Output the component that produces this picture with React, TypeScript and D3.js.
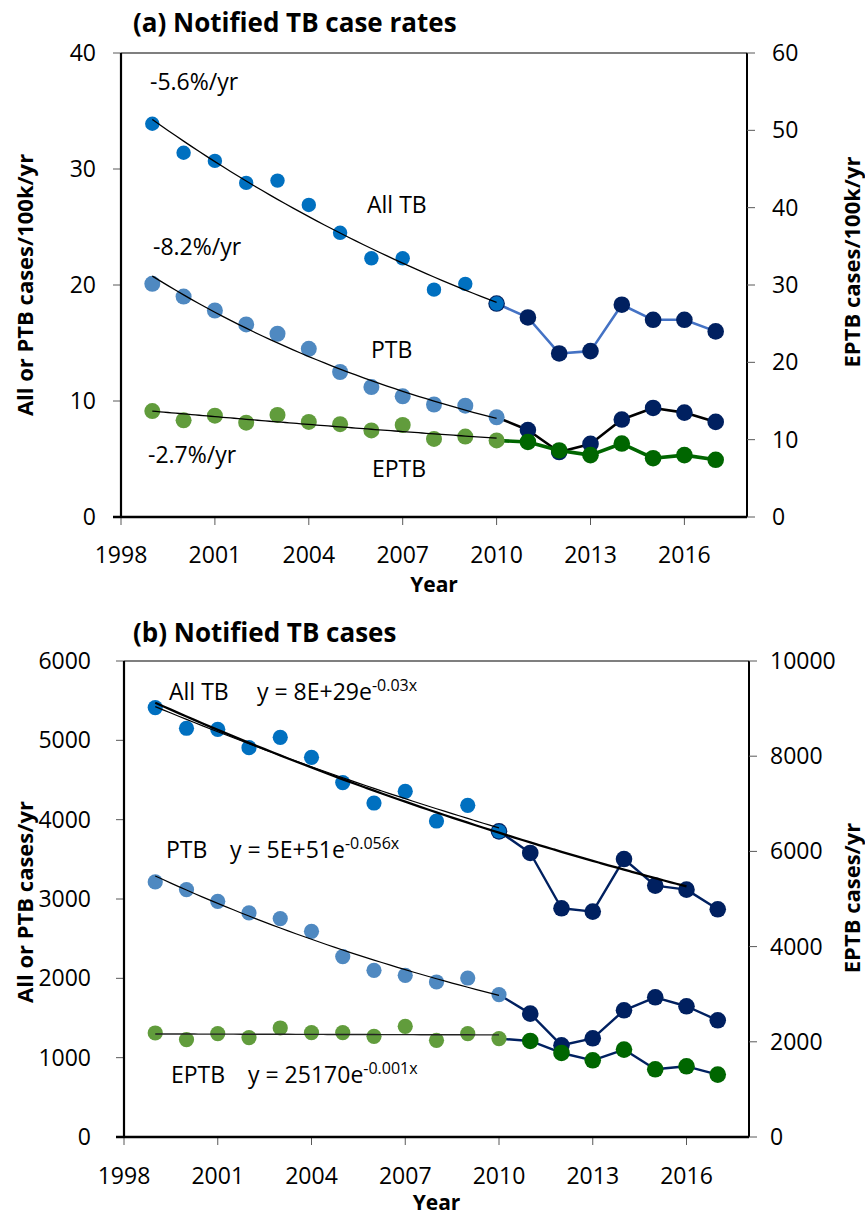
import React from "react";
import * as d3 from "d3";

// Notification years
const YEARS = [1999, 2000, 2001, 2002, 2003, 2004, 2005, 2006, 2007, 2008, 2009, 2010, 2011, 2012, 2013, 2014, 2015, 2016, 2017];

// (a) notified case rates per 100k per year
const RATE_ALL_TB = [33.9, 31.4, 30.7, 28.8, 29.0, 26.9, 24.5, 22.3, 22.3, 19.6, 20.1, 18.4, 17.2, 14.1, 14.3, 18.3, 17.0, 17.0, 16.0];
const RATE_PTB = [20.1, 19.0, 17.8, 16.6, 15.8, 14.5, 12.5, 11.2, 10.4, 9.7, 9.6, 8.6, 7.5, 5.6, 6.3, 8.4, 9.4, 9.0, 8.2];
const RATE_EPTB = [13.7, 12.5, 13.1, 12.2, 13.2, 12.3, 12.0, 11.2, 11.9, 10.1, 10.4, 9.9, 9.7, 8.6, 8.0, 9.5, 7.6, 8.0, 7.4];

// (b) notified case counts per year
const CASES_ALL_TB = [5413, 5152, 5139, 4908, 5038, 4786, 4467, 4210, 4358, 3983, 4181, 3853, 3580, 2883, 2841, 3504, 3169, 3118, 2870];
const CASES_PTB = [3215, 3119, 2971, 2824, 2753, 2593, 2274, 2101, 2038, 1954, 2004, 1795, 1555, 1156, 1244, 1597, 1761, 1648, 1471];
const CASES_EPTB = [2185, 2046, 2172, 2088, 2290, 2193, 2193, 2116, 2326, 2032, 2172, 2067, 2017, 1765, 1611, 1836, 1422, 1485, 1311];

// Trend windows
const TREND_LAST_YEAR = 2010;
const LONG_TREND_LAST_YEAR = 2016;
const LONG_TREND_SKIP = [2012, 2013];

// Tick labels
const X_TICKS = [1998, 2001, 2004, 2007, 2010, 2013, 2016];
const RATE_LEFT_TICKS = [0, 10, 20, 30, 40];
const RATE_RIGHT_TICKS = [0, 10, 20, 30, 40, 50, 60];
const CASE_LEFT_TICKS = [0, 1000, 2000, 3000, 4000, 5000, 6000];
const CASE_RIGHT_TICKS = [0, 2000, 4000, 6000, 8000, 10000];

// Text labels
const RATE_LABELS = ["-5.6%/yr", "-8.2%/yr", "-2.7%/yr"];
const CASE_EQS = [
  { name: "All TB", eq: "y = 8E+29e", exp: "-0.03x" },
  { name: "PTB", eq: "y = 5E+51e", exp: "-0.056x" },
  { name: "EPTB", eq: "y = 25170e", exp: "-0.001x" },
];

const FONT = "'Open Sans', 'Liberation Sans', sans-serif";
const C_ALL = "#0070C0";
const C_PTB = "#4F89C1";
const C_EPTB = "#619C3C";
const C_NAVY = "#002060";
const C_DKGREEN = "#006600";
const C_LINE_BLUE = "#4472C4";
const C_TICK = "#595959";

type Pt = { x: number; y: number };

// exponential least-squares fit on ln(y)
function expFit(years: number[], vals: number[]) {
  const xs = years.map((y) => y - years[0]);
  const ls = vals.map((v) => Math.log(v));
  const mx = d3.mean(xs)!;
  const ml = d3.mean(ls)!;
  const sxy = d3.sum(xs, (x, i) => (x - mx) * (ls[i] - ml));
  const sxx = d3.sum(xs, (x) => (x - mx) * (x - mx));
  const b = sxy / sxx;
  const a = ml - b * mx;
  const y0 = years[0];
  return (yr: number) => Math.exp(a + b * (yr - y0));
}

function trendPoints(vals: number[], last: number, skip: number[] = []): Pt[] {
  const yrs: number[] = [];
  const vs: number[] = [];
  YEARS.forEach((y, i) => {
    if (y <= last && !skip.includes(y)) {
      yrs.push(y);
      vs.push(vals[i]);
    }
  });
  const f = expFit(yrs, vs);
  const pts: Pt[] = [];
  for (let t = YEARS[0]; t <= last + 1e-9; t += 0.25) pts.push({ x: t, y: f(t) });
  return pts;
}

const early = (vals: number[]) =>
  YEARS.map((y, i) => ({ x: y, y: vals[i] })).filter((d) => d.x <= TREND_LAST_YEAR);
const late = (vals: number[]) =>
  YEARS.map((y, i) => ({ x: y, y: vals[i] })).filter((d) => d.x >= TREND_LAST_YEAR);

type PanelProps = {
  top: number;
  bottom: number;
  left: number;
  right: number;
  leftMax: number;
  rightMax: number;
  leftTicks: number[];
  rightTicks: number[];
  leftLabelX: number;
  rightLabelX: number;
  leftTitle: string;
  rightTitle: string;
  leftTitleY: number;
  rightTitleY: number;
  title: string;
  titleY: number;
  xLabelY: number;
  yearY: number;
  children: (sx: d3.ScaleLinear<number, number>, syl: d3.ScaleLinear<number, number>, syr: d3.ScaleLinear<number, number>) => React.ReactNode;
};

function Panel(p: PanelProps) {
  const sx = d3.scaleLinear().domain([1998, 2018]).range([p.left, p.right]);
  const syl = d3.scaleLinear().domain([0, p.leftMax]).range([p.bottom, p.top]);
  const syr = d3.scaleLinear().domain([0, p.rightMax]).range([p.bottom, p.top]);
  return (
    <g>
      <text x={133} y={p.titleY} fontFamily={FONT} fontWeight={700} fontSize={26} fill="#000">
        {p.title}
      </text>
      {/* frame */}
      <line x1={p.left} x2={p.right} y1={p.top} y2={p.top} stroke="#000" strokeWidth={1.2} />
      <line x1={p.right} x2={p.right} y1={p.top} y2={p.bottom} stroke="#000" strokeWidth={2} />
      {/* ticks */}
      {p.leftTicks.map((t) => (
        <g key={"l" + t}>
          <line x1={p.left - 8} x2={p.left} y1={syl(t)} y2={syl(t)} stroke={C_TICK} strokeWidth={1} />
          <text x={p.leftLabelX} y={syl(t) + 8} textAnchor="end" fontFamily={FONT} fontSize={23} fill="#000">
            {t}
          </text>
        </g>
      ))}
      {p.rightTicks.map((t) => (
        <g key={"r" + t}>
          <line x1={p.right} x2={p.right + 8} y1={syr(t)} y2={syr(t)} stroke={C_TICK} strokeWidth={1} />
          <text x={p.rightLabelX} y={syr(t) + 8} textAnchor="start" fontFamily={FONT} fontSize={23} fill="#000">
            {t}
          </text>
        </g>
      ))}
      {X_TICKS.map((t) => (
        <g key={"x" + t}>
          <line x1={sx(t)} x2={sx(t)} y1={p.bottom} y2={p.bottom + 8} stroke={C_TICK} strokeWidth={1} />
          <text x={sx(t)} y={p.xLabelY} textAnchor="middle" fontFamily={FONT} fontSize={23} fill="#000">
            {t}
          </text>
        </g>
      ))}
      <line x1={p.left} x2={p.left} y1={p.top} y2={p.bottom} stroke="#000" strokeWidth={2.2} />
      <line x1={p.left - 8} x2={p.right} y1={p.bottom} y2={p.bottom} stroke="#000" strokeWidth={2.6} />
      <text x={(p.left + p.right) / 2} y={p.yearY} textAnchor="middle" fontFamily={FONT} fontWeight={700} fontSize={21}>
        Year
      </text>
      <text
        transform={`translate(33,${p.leftTitleY}) rotate(-90)`}
        textAnchor="middle"
        fontFamily={FONT}
        fontWeight={700}
        fontSize={22}
      >
        {p.leftTitle}
      </text>
      <text
        transform={`translate(860,${p.rightTitleY}) rotate(-90)`}
        textAnchor="middle"
        fontFamily={FONT}
        fontWeight={700}
        fontSize={22}
      >
        {p.rightTitle}
      </text>
      {p.children(sx, syl, syr)}
    </g>
  );
}

function Series({
  sx,
  sy,
  vals,
  lateFill,
  lineColor,
  lineWidth,
  ringFirst,
}: {
  sx: d3.ScaleLinear<number, number>;
  sy: d3.ScaleLinear<number, number>;
  vals: number[];
  lateFill: string;
  lineColor: string;
  lineWidth: number;
  ringFirst?: boolean;
}) {
  const lg = d3
    .line<Pt>()
    .x((d) => sx(d.x))
    .y((d) => sy(d.y));
  const lp = late(vals);
  return (
    <g>
      <path d={lg(lp) || ""} fill="none" stroke={lineColor} strokeWidth={lineWidth} strokeLinejoin="round" />
      {lp.map((d, i) =>
        i === 0 && !ringFirst ? null : (
          <circle key={d.x} cx={sx(d.x)} cy={sy(d.y)} r={8.3} fill={i === 0 ? C_NAVY : lateFill} />
        )
      )}
    </g>
  );
}

function EarlyDots({
  sx,
  sy,
  vals,
  color,
  r,
}: {
  sx: d3.ScaleLinear<number, number>;
  sy: d3.ScaleLinear<number, number>;
  vals: number[];
  color: string;
  r: number;
}) {
  return (
    <g>
      {early(vals).map((d) => (
        <circle key={d.x} cx={sx(d.x)} cy={sy(d.y)} r={d.x === TREND_LAST_YEAR && color === C_ALL ? 7.2 : r} fill={color} />
      ))}
    </g>
  );
}

function Trend({
  sx,
  sy,
  pts,
  width,
  color = "#000",
}: {
  sx: d3.ScaleLinear<number, number>;
  sy: d3.ScaleLinear<number, number>;
  pts: Pt[];
  width: number;
  color?: string;
}) {
  const lg = d3
    .line<Pt>()
    .x((d) => sx(d.x))
    .y((d) => sy(d.y))
    .curve(d3.curveMonotoneX);
  return <path d={lg(pts) || ""} fill="none" stroke={color} strokeWidth={width} />;
}

export default function App() {
  return (
    <svg width={865} height={1216} style={{ display: "block", position: "absolute", left: 0, top: 0, background: "#fff" }}>
      <rect width={865} height={1216} fill="#fff" />
      <Panel
        top={53}
        bottom={517}
        left={121}
        right={747}
        leftMax={40}
        rightMax={60}
        leftTicks={RATE_LEFT_TICKS}
        rightTicks={RATE_RIGHT_TICKS}
        leftLabelX={96}
        rightLabelX={772}
        leftTitle="All or PTB cases/100k/yr"
        rightTitle="EPTB cases/100k/yr"
        leftTitleY={285}
        rightTitleY={262}
        title="(a) Notified TB case rates"
        titleY={32}
        xLabelY={563}
        yearY={592}
      >
        {(sx, syl, syr) => (
          <g>
            <Series sx={sx} sy={syl} vals={RATE_ALL_TB} lateFill={C_NAVY} lineColor={C_LINE_BLUE} lineWidth={2.6} ringFirst />
            <Series sx={sx} sy={syl} vals={RATE_PTB} lateFill={C_NAVY} lineColor="#000" lineWidth={2.6} />
            <Series sx={sx} sy={syr} vals={RATE_EPTB} lateFill={C_DKGREEN} lineColor={C_DKGREEN} lineWidth={3.6} />
            <EarlyDots sx={sx} sy={syl} vals={RATE_ALL_TB} color={C_ALL} r={7.2} />
            <EarlyDots sx={sx} sy={syl} vals={RATE_PTB} color={C_PTB} r={8} />
            <EarlyDots sx={sx} sy={syr} vals={RATE_EPTB} color={C_EPTB} r={8} />
            <Trend sx={sx} sy={syl} pts={trendPoints(RATE_ALL_TB, TREND_LAST_YEAR)} width={1.3} />
            <Trend sx={sx} sy={syl} pts={trendPoints(RATE_PTB, TREND_LAST_YEAR)} width={1.3} />
            <Trend sx={sx} sy={syr} pts={trendPoints(RATE_EPTB, TREND_LAST_YEAR)} width={1.3} />
            <g fontFamily={FONT} fontSize={23} fill="#000">
              <text x={150} y={90}>{RATE_LABELS[0]}</text>
              <text x={367} y={213}>All TB</text>
              <text x={153} y={255}>{RATE_LABELS[1]}</text>
              <text x={371} y={358}>PTB</text>
              <text x={148} y={463}>{RATE_LABELS[2]}</text>
              <text x={372} y={477}>EPTB</text>
            </g>
          </g>
        )}
      </Panel>
      <Panel
        top={661}
        bottom={1137}
        left={124}
        right={749}
        leftMax={6000}
        rightMax={10000}
        leftTicks={CASE_LEFT_TICKS}
        rightTicks={CASE_RIGHT_TICKS}
        leftLabelX={91}
        rightLabelX={770}
        leftTitle="All or PTB cases/yr"
        rightTitle="EPTB cases/yr"
        leftTitleY={902}
        rightTitleY={898}
        title="(b) Notified TB cases"
        titleY={642}
        xLabelY={1184}
        yearY={1210}
      >
        {(sx, syl, syr) => (
          <g>
            <Series sx={sx} sy={syl} vals={CASES_ALL_TB} lateFill={C_NAVY} lineColor={C_NAVY} lineWidth={2.4} ringFirst />
            <Series sx={sx} sy={syl} vals={CASES_PTB} lateFill={C_NAVY} lineColor={C_NAVY} lineWidth={2.4} />
            <Series sx={sx} sy={syr} vals={CASES_EPTB} lateFill={C_DKGREEN} lineColor={C_NAVY} lineWidth={2.4} />
            <EarlyDots sx={sx} sy={syl} vals={CASES_ALL_TB} color={C_ALL} r={7.6} />
            <EarlyDots sx={sx} sy={syl} vals={CASES_PTB} color={C_PTB} r={7.6} />
            <EarlyDots sx={sx} sy={syr} vals={CASES_EPTB} color={C_EPTB} r={7.6} />
            <Trend sx={sx} sy={syl} pts={trendPoints(CASES_ALL_TB, TREND_LAST_YEAR)} width={1.2} />
            <Trend sx={sx} sy={syl} pts={trendPoints(CASES_ALL_TB, LONG_TREND_LAST_YEAR, LONG_TREND_SKIP)} width={2.3} />
            <Trend sx={sx} sy={syl} pts={trendPoints(CASES_PTB, TREND_LAST_YEAR)} width={1.2} />
            <Trend sx={sx} sy={syr} pts={trendPoints(CASES_EPTB, TREND_LAST_YEAR)} width={1.4} color="#222" />
            <g fontFamily={FONT} fontSize={23} fill="#000">
              {CASE_EQS.map((e, i) => {
                const pos = [
                  { nx: 169, ex: 257, y: 700 },
                  { nx: 166, ex: 230, y: 858 },
                  { nx: 171, ex: 248, y: 1083 },
                ][i];
                return (
                  <g key={e.name}>
                    <text x={pos.nx} y={pos.y}>{e.name}</text>
                    <text x={pos.ex} y={pos.y}>
                      {e.eq}
                      <tspan dy={-9} fontSize={16}>{e.exp}</tspan>
                    </text>
                  </g>
                );
              })}
            </g>
          </g>
        )}
      </Panel>
    </svg>
  );
}
